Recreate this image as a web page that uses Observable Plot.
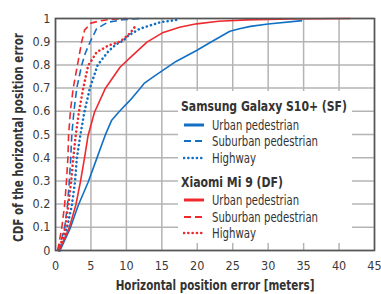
<!DOCTYPE html>
<html>
<head>
<meta charset="utf-8">
<script src="https://cdn.jsdelivr.net/npm/d3@7"></script>
<script src="https://cdn.jsdelivr.net/npm/@observablehq/plot@0.6"></script>
<style>
  body { margin: 0; background: #fff; }
  #wrap { position: relative; width: 381px; height: 294px; font-family: "DejaVu Sans Condensed", "Liberation Sans Narrow", sans-serif; }
  #legend { position: absolute; left: 178px; top: 91px; width: 174px; height: 152px; background: #fff; color: #333; }
  .row { position: absolute; left: 0; width: 174px; height: 16px; line-height: 16px; white-space: nowrap; font-size: 14px; }
  .row svg { position: absolute; left: 5px; top: 3px; }
  .row span { position: absolute; top: 0; transform-origin: 0 50%; display: inline-block; }
  .hdr span { font-weight: bold; font-size: 14.5px; }
  svg [aria-label="x-axis label"] text, svg [aria-label="y-axis label"] text { font-weight: bold; font-size: 14px; fill: #333; }
</style>
</head>
<body>
<div id="wrap"></div>
<script>
// ---- data ----
const xTicks = [0, 5, 10, 15, 20, 25, 30, 35, 40, 45];
const yTicks = [0, 0.1, 0.2, 0.3, 0.4, 0.5, 0.6, 0.7, 0.8, 0.9, 1];

const samsungUrbanX = [0.64, 2.05, 3.2, 4.6, 5.8, 7.0, 7.9, 8.9, 10.5, 11.9, 12.5, 14.05, 17.0, 19.9, 22.0, 24.6, 26.1, 27.5, 30.0, 34.8];
const samsungUrbanY = [0, 0.094, 0.194, 0.294, 0.395, 0.496, 0.56, 0.596, 0.647, 0.697, 0.72, 0.754, 0.815, 0.862, 0.9, 0.945, 0.957, 0.966, 0.976, 0.991];

const samsungSuburbanX = [0.4, 1.3, 1.7, 1.95, 2.15, 2.3, 2.6, 3.0, 3.7, 4.2, 4.9, 5.8, 7.4, 9.5, 12.0];
const samsungSuburbanY = [0, 0.1, 0.2, 0.3, 0.4, 0.5, 0.6, 0.7, 0.8, 0.85, 0.9, 0.956, 0.984, 0.995, 1];

const samsungHighwayX = [0.6, 1.6, 2.3, 2.75, 3.0, 3.5, 4.07, 4.85, 5.95, 7.5, 8.6, 9.6, 10.3, 11.9, 14.8, 17.1];
const samsungHighwayY = [0, 0.094, 0.194, 0.294, 0.395, 0.496, 0.596, 0.7, 0.8, 0.86, 0.89, 0.905, 0.927, 0.956, 0.984, 0.994];

const xiaomiUrbanX = [0.5, 1.9, 2.85, 3.5, 4.07, 4.6, 5.5, 7.0, 9.1, 10.5, 12.9, 15.2, 17.5, 19.9, 23.0, 27.0, 33.0, 41.6];
const xiaomiUrbanY = [0, 0.094, 0.194, 0.294, 0.395, 0.496, 0.596, 0.697, 0.79, 0.83, 0.898, 0.94, 0.962, 0.977, 0.988, 0.994, 0.998, 1];

const xiaomiSuburbanX = [0.3, 0.9, 1.3, 1.55, 1.75, 1.85, 2.1, 2.5, 3.1, 3.7, 4.1, 5.0, 6.3, 8.0, 10.0];
const xiaomiSuburbanY = [0, 0.1, 0.2, 0.3, 0.4, 0.5, 0.6, 0.7, 0.8, 0.9, 0.95, 0.98, 0.99, 0.997, 1];

const xiaomiHighwayX = [0.5, 1.35, 1.8, 2.2, 2.5, 2.85, 3.3, 3.9, 4.6, 5.1, 5.8, 7.5, 9.1, 9.7, 10.3, 11.0, 11.4];
const xiaomiHighwayY = [0, 0.094, 0.194, 0.294, 0.395, 0.496, 0.596, 0.697, 0.797, 0.82, 0.855, 0.884, 0.9, 0.915, 0.93, 0.955, 0.975];

const blue = "#1170c4";
const red = "#ee2a2e";
const DASH = "7,4";
const DOT = "0.1,4.2";

const pts = (xs, ys) => xs.map((x, i) => ({x, y: ys[i]}));

const series = [
  {xs: samsungUrbanX, ys: samsungUrbanY, color: blue, dash: null, w: 1.6},
  {xs: samsungSuburbanX, ys: samsungSuburbanY, color: blue, dash: DASH, w: 1.6},
  {xs: samsungHighwayX, ys: samsungHighwayY, color: blue, dash: DOT, w: 2.6},
  {xs: xiaomiUrbanX, ys: xiaomiUrbanY, color: red, dash: null, w: 1.6},
  {xs: xiaomiSuburbanX, ys: xiaomiSuburbanY, color: red, dash: DASH, w: 1.6},
  {xs: xiaomiHighwayX, ys: xiaomiHighwayY, color: red, dash: DOT, w: 2.6}
];

const lineMarks = series.map(s => Plot.line(pts(s.xs, s.ys), {
  x: "x", y: "y", stroke: s.color, strokeWidth: s.w,
  strokeDasharray: s.dash || undefined,
  strokeLinecap: s.dash === DOT ? "round" : "butt",
  curve: "linear"
}));

const chart = Plot.plot({
  width: 381,
  height: 294,
  marginLeft: 55,
  marginRight: 7,
  marginTop: 18,
  marginBottom: 44,
  style: {fontFamily: '"DejaVu Sans Condensed", "Liberation Sans Narrow", sans-serif', fontSize: "12.5px", color: "#3a3a3a", background: "#fff"},
  x: {domain: [0, 45]},
  y: {domain: [0, 1]},
  marks: [
    Plot.ruleX(xTicks, {stroke: "#b4b4b4", strokeWidth: 1.5}),
    Plot.ruleY(yTicks, {stroke: "#b4b4b4", strokeWidth: 1.5}),
    Plot.axisX({ticks: xTicks, tickSize: 0, tickPadding: 11, tickFormat: d3.format("~g"), label: "Horizontal position error [meters]", labelAnchor: "center", labelArrow: "none", labelOffset: 39}),
    Plot.axisY({ticks: yTicks, tickSize: 0, tickPadding: 5, tickFormat: d3.format("~g"), label: "CDF of the horizontal position error", labelAnchor: "center", labelArrow: "none", labelOffset: 42}),
    ...lineMarks,
    Plot.frame({stroke: "#555", strokeWidth: 1.6})
  ]
});

const wrap = document.getElementById("wrap");
wrap.appendChild(chart);

// condense axis titles to the reference widths (scale along the text direction)
function condense(sel, target, extra) {
  const t = chart.querySelector(sel);
  if (!t) return;
  const len = t.getComputedTextLength();
  if (!(len > 0)) return;
  const tr = t.getAttribute("transform") || "";
  t.setAttribute("transform", `${tr} ${extra} scale(${target / len},1)`);
}
condense('[aria-label="x-axis label"] text', 199, "");
condense('[aria-label="y-axis label"] text', 209, "translate(-3,0)");

// ---- legend (HTML overlay) ----
const legendRows = [
  {type: "hdr", text: "Samsung Galaxy S10+ (SF)", cy: 15, w: 166},
  {type: "item", text: "Urban pedestrian", s: series[0], cy: 33.5, w: 87},
  {type: "item", text: "Suburban pedestrian", s: series[1], cy: 50, w: 106},
  {type: "item", text: "Highway", s: series[2], cy: 67, w: 44},
  {type: "hdr", text: "Xiaomi Mi 9 (DF)", cy: 91, w: 102},
  {type: "item", text: "Urban pedestrian", s: series[3], cy: 109, w: 87},
  {type: "item", text: "Suburban pedestrian", s: series[4], cy: 126, w: 106},
  {type: "item", text: "Highway", s: series[5], cy: 142, w: 44}
];
const legend = document.createElement("div");
legend.id = "legend";
wrap.appendChild(legend);
for (const r of legendRows) {
  const row = document.createElement("div");
  row.className = "row" + (r.type === "hdr" ? " hdr" : "");
  row.style.top = (r.cy - 8) + "px";
  if (r.type === "hdr") {
    row.innerHTML = `<span style="left:3px">${r.text}</span>`;
  } else {
    const s = r.s;
    const dash = s.dash ? ` stroke-dasharray="${s.dash}"` : "";
    const cap = s.dash === DOT ? "round" : "butt";
    const w = s.dash === DOT ? 2.6 : (s.dash ? 2 : 3);
    row.innerHTML = `<svg width="22" height="10"><line x1="1" y1="5" x2="21" y2="5" stroke="${s.color}" stroke-width="${w}" stroke-linecap="${cap}"${dash}/></svg><span style="left:34px">${r.text}</span>`;
  }
  legend.appendChild(row);
  const span = row.querySelector("span");
  const actual = span.getBoundingClientRect().width;
  if (actual > 0) span.style.transform = `scaleX(${r.w / actual})`;
}
</script>
</body>
</html>
